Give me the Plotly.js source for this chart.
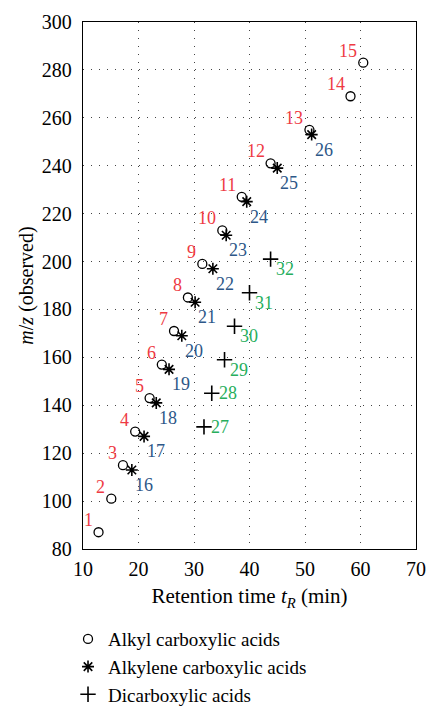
<!DOCTYPE html>
<html>
<head>
<meta charset="utf-8">
<script src="https://cdn.plot.ly/plotly-3.0.1.min.js"></script>
<style>html,body{margin:0;padding:0;background:#fff;}#chart{width:426px;height:707px;}</style>
</head>
<body>
<div id="chart"></div>
<script>
// Alkyl carboxylic acids (1-15)
const alkylLabels = ['1','2','3','4','5','6','7','8','9','10','11','12','13','14','15'];
const alkylTime = [12.8, 15.1, 17.2, 19.4, 22.0, 24.2, 26.4, 28.9, 31.5, 35.1, 38.6, 43.8, 50.8, 58.2, 60.5];
const alkylMz = [87, 101, 115, 129, 143, 157, 171, 185, 199, 213, 227, 241, 255, 269, 283];

// Alkylene carboxylic acids (16-26)
const alkyleneLabels = ['16','17','18','19','20','21','22','23','24','25','26'];
const alkyleneTime = [18.8, 21.0, 23.2, 25.5, 27.8, 30.2, 33.4, 35.8, 39.5, 45.0, 51.2];
const alkyleneMz = [113, 127, 141, 155, 169, 183, 197, 211, 225, 239, 253];

// Dicarboxylic acids (27-32)
const dicarbLabels = ['27','28','29','30','31','32'];
const dicarbTime = [31.8, 33.2, 35.5, 37.3, 40.0, 43.8];
const dicarbMz = [131, 145, 159, 173, 187, 201];

const seriesNames = ['Alkyl carboxylic acids', 'Alkylene carboxylic acids', 'Dicarboxylic acids'];
const xTicks = [10, 20, 30, 40, 50, 60, 70];
const yTicks = [80, 100, 120, 140, 160, 180, 200, 220, 240, 260, 280, 300];

const FONT = '"Liberation Serif", "Times New Roman", Times, serif';
const RED = '#ee3a43', BLUE = '#2d5788', GREEN = '#27ae5c';

const traces = [
  {x: alkylTime, y: alkylMz, mode: 'markers', name: seriesNames[0],
   marker: {symbol: 'circle-open', size: 9, color: '#000', line: {width: 1.3, color: '#000'}}},
  {x: alkyleneTime, y: alkyleneMz, mode: 'markers', name: seriesNames[1],
   marker: {symbol: 'asterisk-open', size: 10, color: '#000', line: {width: 1.6, color: '#000'}}},
  {x: dicarbTime, y: dicarbMz, mode: 'markers', name: seriesNames[2],
   marker: {symbol: 'cross-thin-open', size: 11, color: '#000', line: {width: 1.6, color: '#000'}}}
];

const annotations = [];
alkylLabels.forEach((t, i) => annotations.push({
  x: alkylTime[i], y: alkylMz[i], text: t, showarrow: false, xanchor: 'right', yanchor: 'middle',
  xshift: -4, yshift: 12, font: {family: FONT, size: 18, color: RED}
}));
alkyleneLabels.forEach((t, i) => annotations.push({
  x: alkyleneTime[i], y: alkyleneMz[i], text: t, showarrow: false, xanchor: 'left', yanchor: 'middle',
  xshift: 1, yshift: -15, font: {family: FONT, size: 18, color: BLUE}
}));
dicarbLabels.forEach((t, i) => annotations.push({
  x: dicarbTime[i], y: dicarbMz[i], text: t, showarrow: false, xanchor: 'left', yanchor: 'middle',
  xshift: i < 2 ? 5 : 3, yshift: i < 2 ? 0 : -10, font: {family: FONT, size: 18, color: GREEN}
}));

const axisCommon = {
  showline: true, mirror: true, linecolor: '#000', linewidth: 1.3,
  showgrid: true, gridcolor: '#444', griddash: '1px,7px', gridwidth: 1,
  zeroline: false, ticks: '',
  tickfont: {family: FONT, size: 20, color: '#000'}
};

const layout = {
  width: 426, height: 707,
  margin: {l: 83, r: 10, t: 22, b: 158, autoexpand: false},
  paper_bgcolor: '#fff', plot_bgcolor: '#fff',
  font: {family: FONT, color: '#000'},
  annotations: annotations,
  xaxis: Object.assign({}, axisCommon, {
    range: [10, 70], tickvals: xTicks, ticktext: xTicks.map(String), ticklabelstandoff: 2,
    title: {text: 'Retention time <i>t</i><sub><i>R</i></sub> (min)', font: {family: FONT, size: 21}, standoff: 9}
  }),
  yaxis: Object.assign({}, axisCommon, {
    range: [80, 300], tickvals: yTicks, ticktext: yTicks.map(String), ticklabelstandoff: 6,
    title: {text: '<i>m</i>/<i>z</i> (observed)', font: {family: FONT, size: 20}, standoff: 2}
  }),
  legend: {x: -0.045, xanchor: 'left', yref: 'container', y: 0.123, yanchor: 'top', orientation: 'v',
    font: {family: FONT, size: 19, color: '#000'}, bgcolor: 'rgba(0,0,0,0)', tracegroupgap: 0, itemwidth: 30},
  showlegend: true
};

Plotly.newPlot('chart', traces, layout, {displayModeBar: false, staticPlot: true});
</script>
</body>
</html>
